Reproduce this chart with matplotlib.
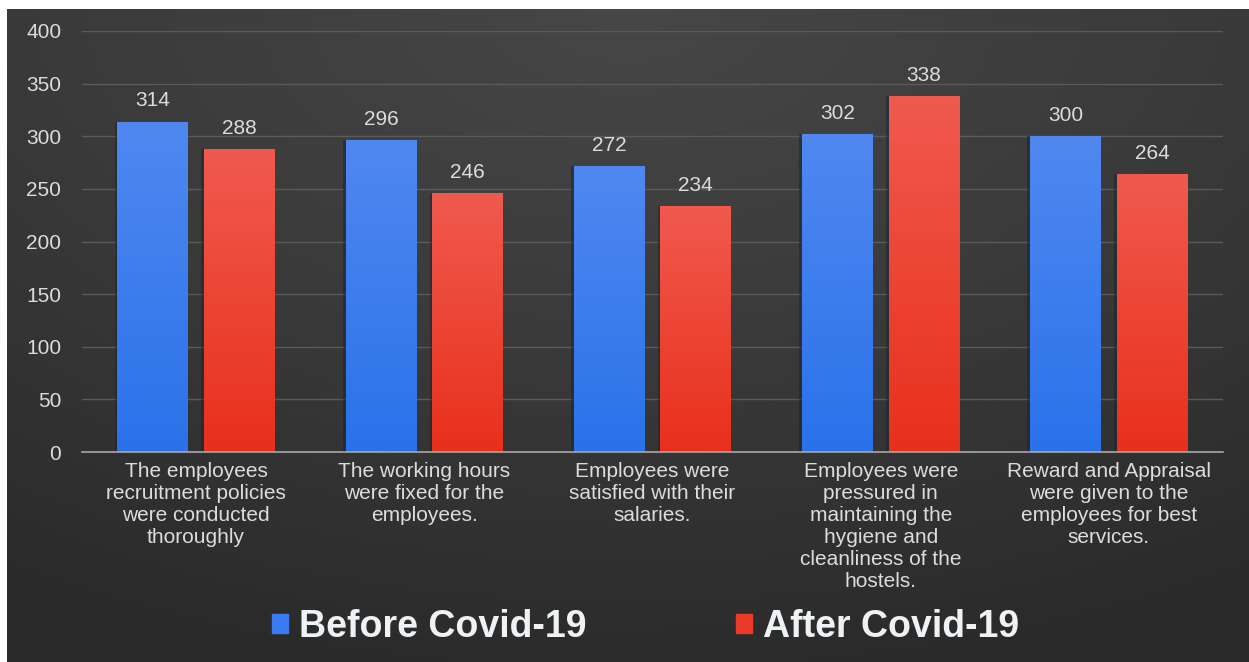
import numpy as np
import matplotlib.pyplot as plt
from matplotlib.colors import LinearSegmentedColormap
from matplotlib.patches import Rectangle

# Data
categories = [
    "The employees\nrecruitment policies\nwere conducted\nthoroughly",
    "The working hours\nwere fixed for the\nemployees.",
    "Employees were\nsatisfied with their\nsalaries.",
    "Employees were\npressured in\nmaintaining the\nhygiene and\ncleanliness of the\nhostels.",
    "Reward and Appraisal\nwere given to the\nemployees for best\nservices.",
]
before = [314, 296, 272, 302, 300]
after = [288, 246, 234, 338, 264]
series_names = ["Before Covid-19", "After Covid-19"]
yticks = [0, 50, 100, 150, 200, 250, 300, 350, 400]

plt.rcParams['font.family'] = ['Liberation Sans', 'DejaVu Sans']
txt = "#dcdcdc"

fig = plt.figure(figsize=(12.49, 6.62), dpi=100, facecolor="white")

# Dark radial gradient background panel
bg = fig.add_axes([7 / 1249, 0, 1 - 7 / 1249, 1 - 9 / 662])
bg.set_axis_off()
yy, xx = np.mgrid[0:1:300j, 0:1:600j]
r = np.sqrt(((xx - 0.5) / 1.0) ** 2 + ((yy - 1.0) / 1.1) ** 2)
bg_cmap = LinearSegmentedColormap.from_list("bg", ["#474747", "#3a3a3a", "#2a2a2a"])
bg.imshow(r, cmap=bg_cmap, origin="lower", aspect="auto", extent=[0, 1, 0, 1],
          vmin=0, vmax=0.95)
bg.set_xlim(0, 1)
bg.set_ylim(0, 1)

ax = fig.add_axes([82 / 1249, 1 - 452 / 662, (1223 - 82) / 1249, (452 - 31) / 662])
ax.patch.set_alpha(0)

x = np.arange(len(categories))
w = 0.31
off = 0.19
blue_cmap = LinearSegmentedColormap.from_list("b", ["#2a72ea", "#5088f0"])
red_cmap = LinearSegmentedColormap.from_list("r", ["#e8301c", "#f05a4e"])
grad = np.linspace(0, 1, 256).reshape(-1, 1)


def gradient_bars(xs, vals, cmap, label):
    bars = ax.bar(xs, vals, w, color=cmap(0.5), label=label, zorder=2)
    for b in bars:
        bx, by = b.get_x(), b.get_y()
        bw, bh = b.get_width(), b.get_height()
        # slight shadow at the left edge
        ax.add_patch(Rectangle((bx - 0.012, by), 0.012, bh, color="#1a2230",
                               alpha=0.5, zorder=1.9, lw=0))
        im = ax.imshow(grad, cmap=cmap, origin="lower", aspect="auto",
                       extent=[bx, bx + bw, by, by + bh], zorder=2.1)
        im.set_clip_path(b)
        ax.annotate(f"{int(b.get_height())}", (bx + bw / 2, bh), xytext=(0, 8),
                    textcoords="offset points", ha="center", va="bottom",
                    color=txt, fontsize=15)
    return bars


gradient_bars(x - off, before, blue_cmap, series_names[0])
gradient_bars(x + off, after, red_cmap, series_names[1])

ax.set_xlim(-0.5, len(categories) - 0.5)
ax.set_ylim(0, 400)
ax.set_yticks(yticks)
ax.set_yticklabels([str(v) for v in yticks], color=txt, fontsize=15)
ax.set_xticks(x)
ax.set_xticklabels(categories, color=txt, fontsize=15, linespacing=1.2)
ax.tick_params(axis="y", length=0, pad=15)
ax.tick_params(axis="x", length=0, pad=7)
ax.grid(axis="y", color="#5a5a5a", lw=1, zorder=0)
ax.set_axisbelow(True)
for s in ["top", "right", "left"]:
    ax.spines[s].set_visible(False)
ax.spines["bottom"].set_color("#a8a8a8")
ax.spines["bottom"].set_linewidth(1.2)
ax.spines["bottom"].set_zorder(3)

handles = [Rectangle((0, 0), 1, 1, color="#3a7cf0"), Rectangle((0, 0), 1, 1, color="#ea3a28")]
leg = fig.legend(handles, series_names, loc="center", bbox_to_anchor=(0.517, 1 - 627 / 662),
                 ncol=2, frameon=False, handlelength=0.42, handleheight=0.42,
                 handletextpad=0.3, columnspacing=4.0,
                 prop={"size": 27, "weight": "bold"})
for t in leg.get_texts():
    t.set_color("#eef2f4")

fig.savefig("out.png", dpi=100, facecolor=fig.get_facecolor())
